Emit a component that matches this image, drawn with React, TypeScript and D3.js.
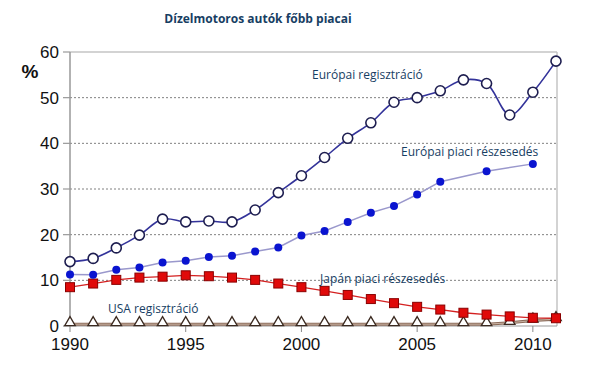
import React from "react";
import * as d3 from "d3";

const years = d3.range(1990, 2012);
const euReg = [14.1, 14.8, 17.1, 19.9, 23.4, 22.8, 23.0, 22.8, 25.4, 29.2, 32.9, 36.9, 41.1, 44.5, 49.0, 50.0, 51.5, 53.9, 53.1, 46.2, 51.2, 58.0];
const euShareYears = [1990, 1991, 1992, 1993, 1994, 1995, 1996, 1997, 1998, 1999, 2000, 2001, 2002, 2003, 2004, 2005, 2006, 2008, 2010];
const euShare = [11.3, 11.2, 12.3, 12.8, 13.9, 14.3, 15.1, 15.4, 16.3, 17.2, 19.8, 20.8, 22.8, 24.8, 26.3, 28.8, 31.6, 33.9, 35.5];
const japan = [8.5, 9.3, 10.1, 10.6, 10.8, 11.1, 10.9, 10.6, 10.1, 9.3, 8.5, 7.7, 6.8, 5.9, 5.0, 4.2, 3.6, 2.9, 2.5, 2.1, 1.8, 1.7];
const usa = [0.4, 0.4, 0.4, 0.4, 0.4, 0.4, 0.4, 0.4, 0.4, 0.4, 0.4, 0.4, 0.4, 0.4, 0.4, 0.4, 0.4, 0.4, 0.4, 0.7, 1.2, 1.5];
const yTicks = [0, 10, 20, 30, 40, 50, 60];
const xTicks = [1990, 1995, 2000, 2005, 2010];

const W = 592;
const H = 366;
const labelFont = "'Open Sans', 'DejaVu Sans', sans-serif";
const axisFont = "'Liberation Sans', Arial, sans-serif";
const textColor = "#173e63";

export default function App() {
  const x = d3.scaleLinear().domain([1990, 2011]).range([70, 556]);
  const y = d3.scaleLinear().domain([0, 60]).range([326, 52]);

  const straight = d3.line<[number, number]>().x((d) => x(d[0])).y((d) => y(d[1]));
  const smooth = d3
    .line<[number, number]>()
    .x((d) => x(d[0]))
    .y((d) => y(d[1]))
    .curve(d3.curveCatmullRom.alpha(0.5));

  const euRegPts = years.map((yr, i) => [yr, euReg[i]] as [number, number]);
  const euSharePts = euShareYears.map((yr, i) => [yr, euShare[i]] as [number, number]);
  const japanPts = years.map((yr, i) => [yr, japan[i]] as [number, number]);
  const usaPts = years.map((yr, i) => [yr, usa[i]] as [number, number]);

  const tri = d3.symbol().type(d3.symbolTriangle).size(48)();

  return (
    <svg width={W} height={H} style={{ position: "absolute", left: 0, top: 0, background: "#fff" }}>
      <text x={258} y={23} textAnchor="middle" fontFamily={labelFont} fontWeight="bold" fontSize={12} fill={textColor}>
        Dízelmotoros autók főbb piacai
      </text>

      {/* plot frame */}
      <line x1={70} x2={557} y1={y(60)} y2={y(60)} stroke="#c4c4c4" strokeWidth={1.5} />
      <line x1={557} x2={557} y1={y(60)} y2={y(0)} stroke="#c4c4c4" strokeWidth={1.5} />

      {/* grid */}
      {yTicks.filter((t) => t > 0 && t < 60).map((t) => (
        <line key={t} x1={70} x2={557} y1={y(t)} y2={y(t)} stroke="#808080" strokeWidth={1} strokeDasharray="2,2" />
      ))}

      {/* y axis */}
      <line x1={70} x2={70} y1={y(60)} y2={y(0)} stroke="#999" strokeWidth={1.5} />
      {yTicks.map((t) => (
        <g key={t}>
          <line x1={63} x2={70} y1={y(t)} y2={y(t)} stroke="#999" strokeWidth={1.2} />
          <text x={59} y={y(t) + 6} textAnchor="end" fontFamily={axisFont} fontSize={17} fill="#111">
            {t}
          </text>
        </g>
      ))}
      <text x={30} y={78} textAnchor="middle" fontFamily={axisFont} fontWeight="bold" fontSize={19} fill="#111">
        %
      </text>

      {/* x axis */}
      <line x1={70} x2={557} y1={y(0)} y2={y(0)} stroke="#999" strokeWidth={1.2} />
      {xTicks.map((t) => (
        <g key={t}>
          <line x1={x(t)} x2={x(t)} y1={y(0)} y2={y(0) + 6} stroke="#888" strokeWidth={1} />
          <text x={x(t)} y={350} textAnchor="middle" fontFamily={axisFont} fontSize={17} fill="#111">
            {t}
          </text>
        </g>
      ))}

      {/* USA */}
      <path d={straight(usaPts) || ""} fill="none" stroke="#8a6a58" strokeWidth={3} />
      <path d={straight(usaPts) || ""} fill="none" stroke="#c9b2a3" strokeWidth={1} />
      {usaPts.map((p) => (
        <path key={p[0]} d={tri || ""} transform={`translate(${x(p[0])},${y(p[1]) - 1.5})`} fill="#fff" stroke="#3b2a20" strokeWidth={1.3} />
      ))}

      {/* Japan */}
      <path d={straight(japanPts) || ""} fill="none" stroke="#d42020" strokeWidth={1.3} />
      {japanPts.map((p) => (
        <rect key={p[0]} x={x(p[0]) - 4.5} y={y(p[1]) - 4.5} width={9} height={9} fill="#e00a0a" stroke="#8a0000" strokeWidth={1} />
      ))}

      {/* European share */}
      <path d={straight(euSharePts) || ""} fill="none" stroke="#9a98cc" strokeWidth={1.5} />
      {euSharePts.map((p) => (
        <circle key={p[0]} cx={x(p[0])} cy={y(p[1])} r={4} fill="#0a14d0" />
      ))}

      {/* European registration */}
      <path d={smooth(euRegPts) || ""} fill="none" stroke="#33339a" strokeWidth={1.6} />
      {euRegPts.map((p) => (
        <circle key={p[0]} cx={x(p[0])} cy={y(p[1])} r={5} fill="#fff" stroke="#1e1e50" strokeWidth={1.6} />
      ))}

      {/* series labels */}
      <text x={312} y={79} fontFamily={labelFont} fontSize={12} fill={textColor}>Európai regisztráció</text>
      <text x={401} y={156} fontFamily={labelFont} fontSize={12} fill={textColor}>Európai piaci részesedés</text>
      <text x={320} y={283} fontFamily={labelFont} fontSize={12} fill={textColor}>Japán piaci részesedés</text>
      <text x={108} y={313} fontFamily={labelFont} fontSize={12} fill={textColor}>USA regisztráció</text>
    </svg>
  );
}
